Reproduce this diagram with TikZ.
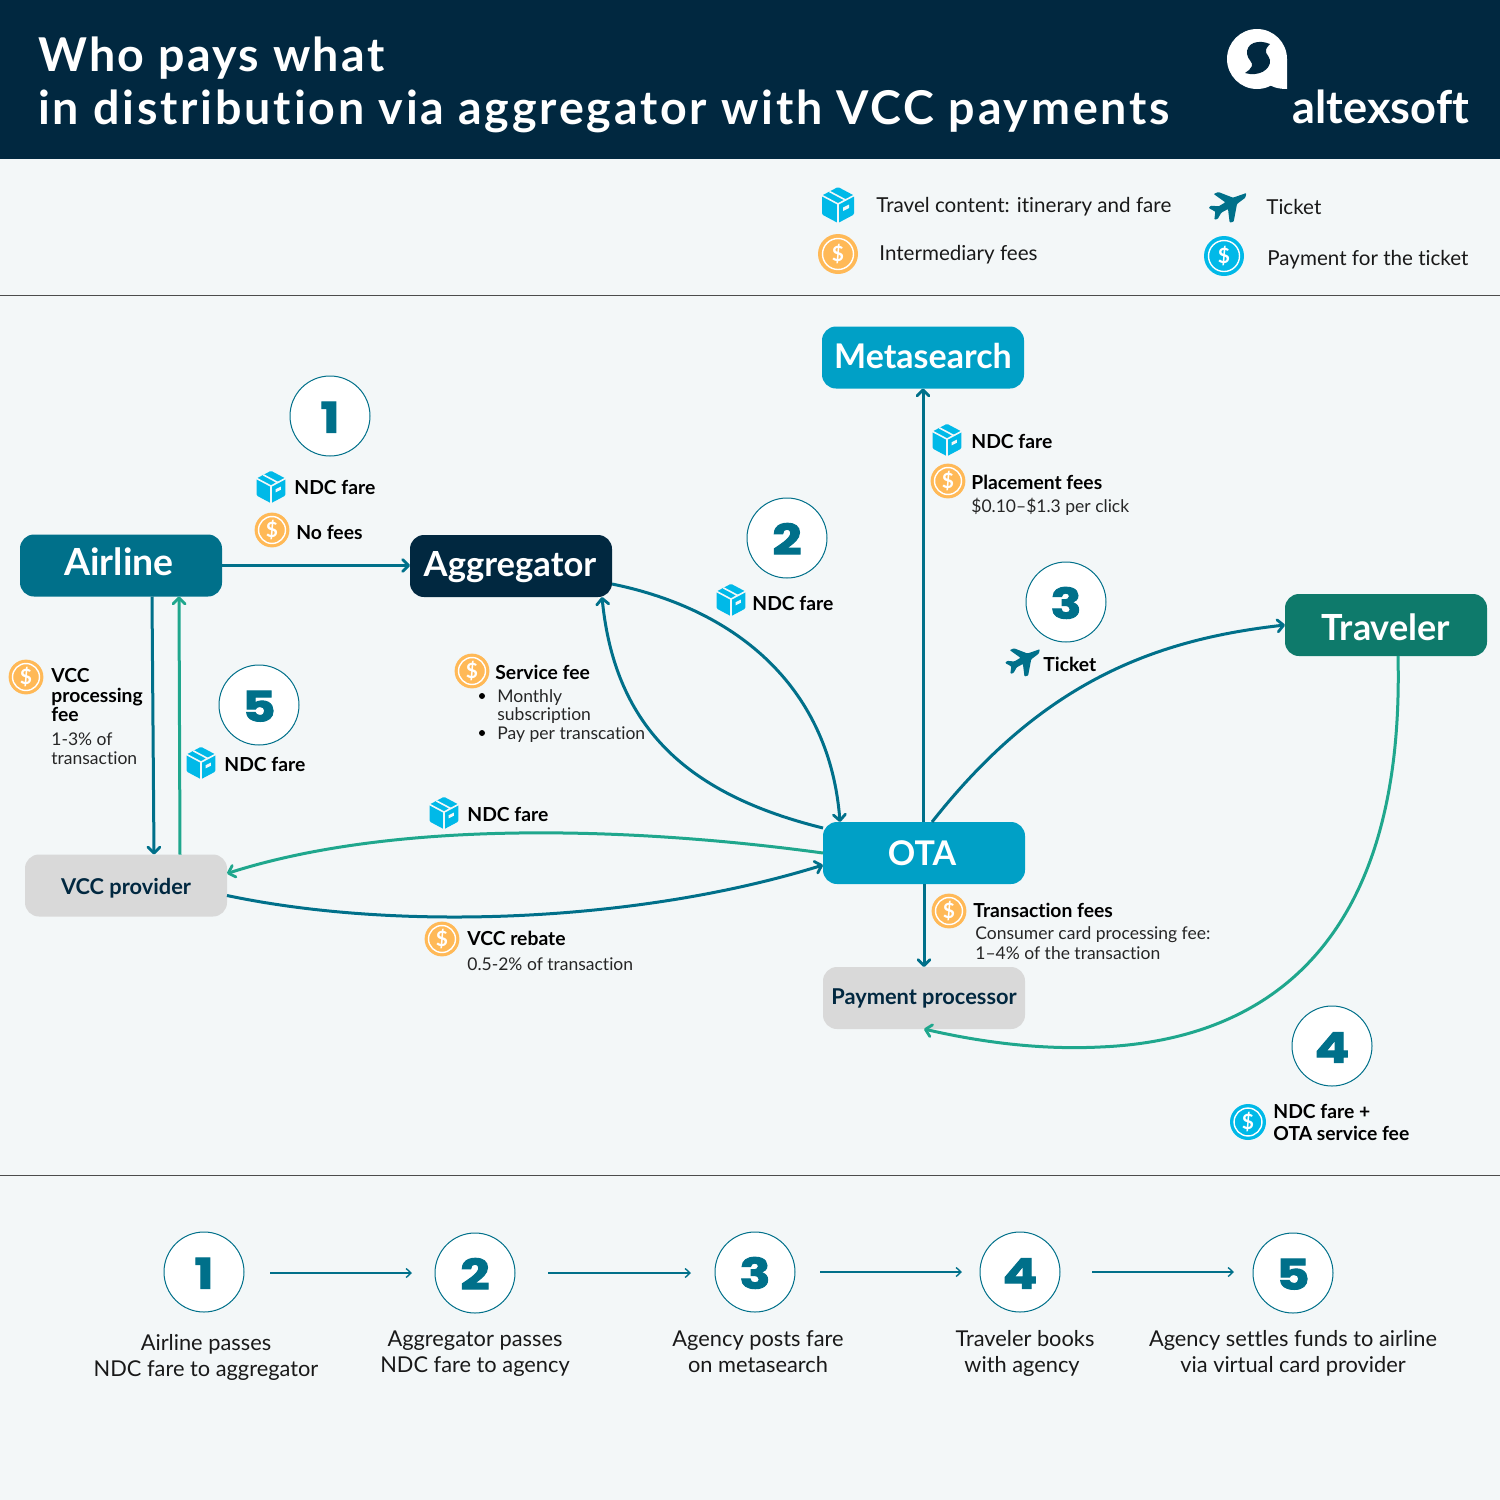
\documentclass[tikz,border=0pt]{standalone}
\usepackage{fontspec}
\setmainfont{Lato}[Ligatures=NoCommon]
\newfontfamily\titlef{Lato}[Ligatures=NoCommon]
\newfontfamily\numf[BoldFeatures={FakeBold=2.4,FakeStretch=1.22}]{Poppins}
\usetikzlibrary{arrows.meta,calc}
\definecolor{navy}{HTML}{012840}
\definecolor{teal1}{HTML}{00708A}
\definecolor{cyan1}{HTML}{00A0C6}
\definecolor{cyan2}{HTML}{00B9E8}
\definecolor{green1}{HTML}{0E7A6B}
\definecolor{green2}{HTML}{1FA78D}
\definecolor{orange1}{HTML}{FFB957}
\definecolor{gray1}{HTML}{D9D9D9}
\definecolor{paper}{HTML}{F3F7F8}
\tikzset{
  x=.5pt,y=-.5pt,
  bl/.style={text height=#1pt,text depth=0pt},
  actor/.style={rounded corners=7pt,minimum width=101pt,minimum height=31pt,inner sep=0pt,outer sep=0pt,font=\bfseries\fontsize{18}{20}\selectfont,text=white,align=center},
  graybox/.style={actor,fill=gray1,text=navy,font=\bfseries\fontsize{10.9}{13}\selectfont},
  flow/.style={line width=1.5pt,teal1,-{Straight Barb[length=3pt,width=6pt,line width=1.4pt,round]}},
  flowg/.style={flow,green2},
  step arrow/.style={line width=.7pt,teal1,-{Straight Barb[length=2.4pt,width=4.5pt,line width=.7pt]}},
  badge/.style={circle,draw=teal1,fill=white,line width=.5pt,minimum size=40pt,inner sep=0pt,text=teal1,bl=16.5,font=\numf\bfseries\fontsize{21}{21}\selectfont},
  lbl/.style={anchor=base west,inner sep=0pt,font=\bfseries\fontsize{9.65}{12}\selectfont,text=black},
  sub/.style={anchor=base west,inner sep=0pt,font=\fontsize{8.75}{11}\selectfont,text=black!85},
  legend/.style={anchor=base west,inner sep=0pt,font=\fontsize{10.3}{13}\selectfont,text=black!90},
  caption/.style={anchor=base,inner sep=0pt,font=\fontsize{10.9}{13}\selectfont,text=black!90},
  pics/coin/.style={code={
    \fill[#1] (0,0) circle (20);
    \draw[white,line width=.7pt] (0,0) circle (15.5);
    \node[text=white,inner sep=0pt,font=\bfseries\fontsize{10.5}{11}\selectfont] {\$};
  }},
  pics/parcel/.style={code={
    \fill[cyan2,rounded corners=.6pt] (0,-18)--(16,-9.5)--(16,9.5)--(0,18)--(-16,9.5)--(-16,-9.5)--cycle;
    \draw[paper,line width=.8pt] (-16,-9.5)--(0,-1)--(16,-9.5) (0,-1)--(0,18) (-8.5,-13.5)--(7.5,-5);
    \fill[paper] (5,2.5)--(11,-.5)--(11,3)--(5,6)--cycle;
  }},
  pics/plane/.style={code={
    \fill[teal1,rounded corners=.4pt,x=.1667pt,y=-.1667pt,shift={(-110,-597)}]
      (168,552)--(128,566)--(84,549)--(70,555)--(105,580)--(85,592)--(62,590)--(55,597)--(75,608)--(72,632)--(82,630)--(93,611)--(113,600)--(118,641)--(130,638)--(140,585)--(165,566)--cycle;
  }},
}
\begin{document}
\begin{tikzpicture}
\useasboundingbox (0,0) rectangle (1500,1500);
\fill[paper] (0,0) rectangle (1500,1500);
\fill[navy] (0,0) rectangle (1500,159);
\draw[black!70,line width=.4pt] (0,295) -- (1500,295) (0,1175) -- (1500,1175);

% header
\node[anchor=base west,inner sep=0pt,text=white,font=\titlef\bfseries\fontsize{23.3}{26}\selectfont\addfontfeatures{LetterSpace=5}] (t1) at (38,71.5) {Who pays what};
\node[anchor=base west,inner sep=0pt,text=white,font=\titlef\bfseries\fontsize{23.3}{26}\selectfont\addfontfeatures{LetterSpace=6}] (t2) at (38,124) {in distribution via aggregator with VCC payments};
\fill[white] (1257,59) circle (30);
\fill[white] (1287,59) -- (1287,89) .. controls (1278,89) and (1272,87) .. (1266,83) -- cycle;
\fill[navy] (1270,44) .. controls (1258,39) and (1246,43) .. (1247,54) .. controls (1248,60) and (1253,62) .. (1252,66) .. controls (1251,69) and (1248,71) .. (1245,73) .. controls (1258,77) and (1271,70) .. (1270,60) .. controls (1269,54) and (1261,53) .. (1270,44) -- cycle;
\node[anchor=base west,inner sep=0pt,text=white,font=\bfseries\fontsize{22.6}{24}\selectfont] (logo) at (1292,123.5) {altexsoft};

% legend
\pic at (838,205) {parcel};
\pic at (838,254) {coin=orange1};
\pic at (1227,208) {plane};
\pic at (1224,256) {coin=cyan2};
\node[legend] (lg1) at (876,212) {Travel content: itinerary and fare};
\node[legend] (lg2) at (879,260) {Intermediary fees};
\node[legend] (lg3) at (1266,214) {Ticket};
\node[legend] (lg4) at (1267,265) {Payment for the ticket};

% actors
\node[actor,fill=teal1,bl=9.5,font=\bfseries\fontsize{18.7}{20}\selectfont] (airline) at (121,565.5) {\kern-2pt Airline};
\node[actor,fill=navy,bl=10,font=\bfseries\fontsize{17.3}{20}\selectfont] (agg) at (511,566) {\kern-1pt Aggregator};
\node[actor,fill=cyan1,bl=10.5,font=\bfseries\fontsize{17}{20}\selectfont] (meta) at (923,357.5) {Metasearch};
\node[actor,fill=cyan1,bl=12,font=\bfseries\fontsize{17}{20}\selectfont] (ota) at (924,853) {\kern-2pt OTA};
\node[actor,fill=green1,bl=15] (traveler) at (1386,625) {Traveler};
\node[graybox,bl=8.5] (vcc) at (126,885.5) {VCC provider};
\node[graybox,bl=6] (pay) at (924,998) {Payment processor};

% connectors
\draw[flow] (airline.east) -- (agg.west |- airline.east);
\draw[flow] ($(agg.east)+(0,18)$) .. controls (740,610) and (830,690) .. ($(ota.north)+(-84,0)$);
\draw[flow] ($(ota.west)+(0,-25)$) .. controls (690,795) and (615,730) .. ($(agg.south)+(91,0)$);
\draw[flow] (meta.south |- ota.north) -- (meta.south);
\draw[flow] ($(ota.north)+(8,0)$) .. controls (1040,685) and (1150,640) .. (traveler.west);
\draw[flowg] ($(traveler.south)+(12,0)$) .. controls (1405,940) and (1270,1040) .. (1100,1047) .. controls (1040,1050) and (980,1042) .. (pay.south);
\draw[flowg] (ota.west) .. controls (640,828) and (400,818) .. ($(vcc.east)+(0,-12)$);
\draw[flow] ($(vcc.east)+(0,10)$) .. controls (400,932) and (640,922) .. ($(ota.west)+(0,12)$);
\draw[flow] ($(airline.south)+(31,0)$) -- ($(vcc.north)+(28,0)$);
\draw[flowg] ($(vcc.north)+(54,0)$) -- ($(airline.south)+(58,0)$);
\draw[flow] (ota.south) -- (pay.north);

% badges in diagram
\node[badge] (b1) at (330,416) {1};
\node[badge] (b2) at (787,538) {2};
\node[badge] (b3) at (1066,602) {3};
\node[badge] (b4) at (1332,1046) {4};
\node[badge] (b5) at (259,705) {5};

% labels
\pic[scale=.9] at (271,487) {parcel};
\node[lbl] (a1) at (294,494) {NDC fare};
\pic[scale=.87] at (272,530) {coin=orange1};
\node[lbl] (a2) at (296,539) {No fees};
\pic[scale=.9] at (731,600) {parcel};
\node[lbl] (a3) at (752,610) {NDC fare};
\pic[scale=.9] at (947,440) {parcel};
\node[lbl] (a4) at (971,448) {NDC fare};
\pic[scale=.87] at (948,481) {coin=orange1};
\node[lbl] (a5) at (971,489) {Placement fees};
\node[sub] (a6) at (971,512) {\$0.10–\$1.3 per click};
\pic[scale=.92] at (1022,663) {plane};
\node[lbl] (a7) at (1043,671) {Ticket};
\pic[scale=.87] at (472,671) {coin=orange1};
\node[lbl] (a8) at (495,679) {Service fee};
\fill[black] (482,696) circle (3) (482,733) circle (3);
\node[sub] (a9) at (497,702) {Monthly};
\node[sub] (a10) at (497,720) {subscription};
\node[sub] (a11) at (497,739) {Pay per transcation};
\pic[scale=.87] at (26,677) {coin=orange1};
\node[lbl] (a12) at (51,682) {VCC};
\node[lbl] (a13) at (51,702) {processing};
\node[lbl] (a14) at (51,721) {fee};
\node[sub] (a15) at (51,745) {1-3\% of};
\node[sub] (a16) at (51,764) {transaction};
\pic[scale=.9] at (201,763) {parcel};
\node[lbl] (a17) at (224,771) {NDC fare};
\pic[scale=.9] at (444,813) {parcel};
\node[lbl] (a18) at (467,821) {NDC fare};
\pic[scale=.87] at (442,939) {coin=orange1};
\node[lbl] (a19) at (467,945) {VCC rebate};
\node[sub] (a20) at (467,970) {0.5-2\% of transaction};
\pic[scale=.87] at (949,911) {coin=orange1};
\node[lbl] (a21) at (973,917) {Transaction fees};
\node[sub] (a22) at (975,939) {Consumer card processing fee:};
\node[sub] (a23) at (975,959) {1–4\% of the transaction};
\pic[scale=.9] at (1248,1122) {coin=cyan2};
\node[lbl] (a24) at (1273,1118) {NDC fare +};
\node[lbl] (a25) at (1273,1140) {OTA service fee};

% bottom timeline
\node[badge] (s1) at (204,1272) {1};
\node[badge] (s2) at (475,1273) {2};
\node[badge] (s3) at (755,1272) {3};
\node[badge] (s4) at (1020,1272) {4};
\node[badge] (s5) at (1293,1273) {5};
\coordinate (f1a) at (270,1273); \coordinate (f1b) at (412,1273);
\coordinate (f2a) at (548,1273); \coordinate (f2b) at (691,1273);
\coordinate (f3a) at (820,1272); \coordinate (f3b) at (962,1272);
\coordinate (f4a) at (1092,1272); \coordinate (f4b) at (1234,1272);
\draw[step arrow] (f1a) -- (f1b);
\draw[step arrow] (f2a) -- (f2b);
\draw[step arrow] (f3a) -- (f3b);
\draw[step arrow] (f4a) -- (f4b);
\node[caption] (c1a) at (206,1350) {Airline passes};
\node[caption] (c1b) at (206,1376) {NDC fare to aggregator};
\node[caption] (c2a) at (475,1346) {Aggregator passes};
\node[caption] (c2b) at (475,1372) {NDC fare to agency};
\node[caption] (c3a) at (758,1346) {Agency posts fare};
\node[caption] (c3b) at (758,1372) {on metasearch};
\node[caption] (c4a) at (1025,1346) {Traveler books};
\node[caption] (c4b) at (1022,1372) {with agency};
\node[caption] (c5a) at (1293,1346) {Agency settles funds to airline};
\node[caption] (c5b) at (1293,1372) {via virtual card provider};
\end{tikzpicture}
\end{document}
